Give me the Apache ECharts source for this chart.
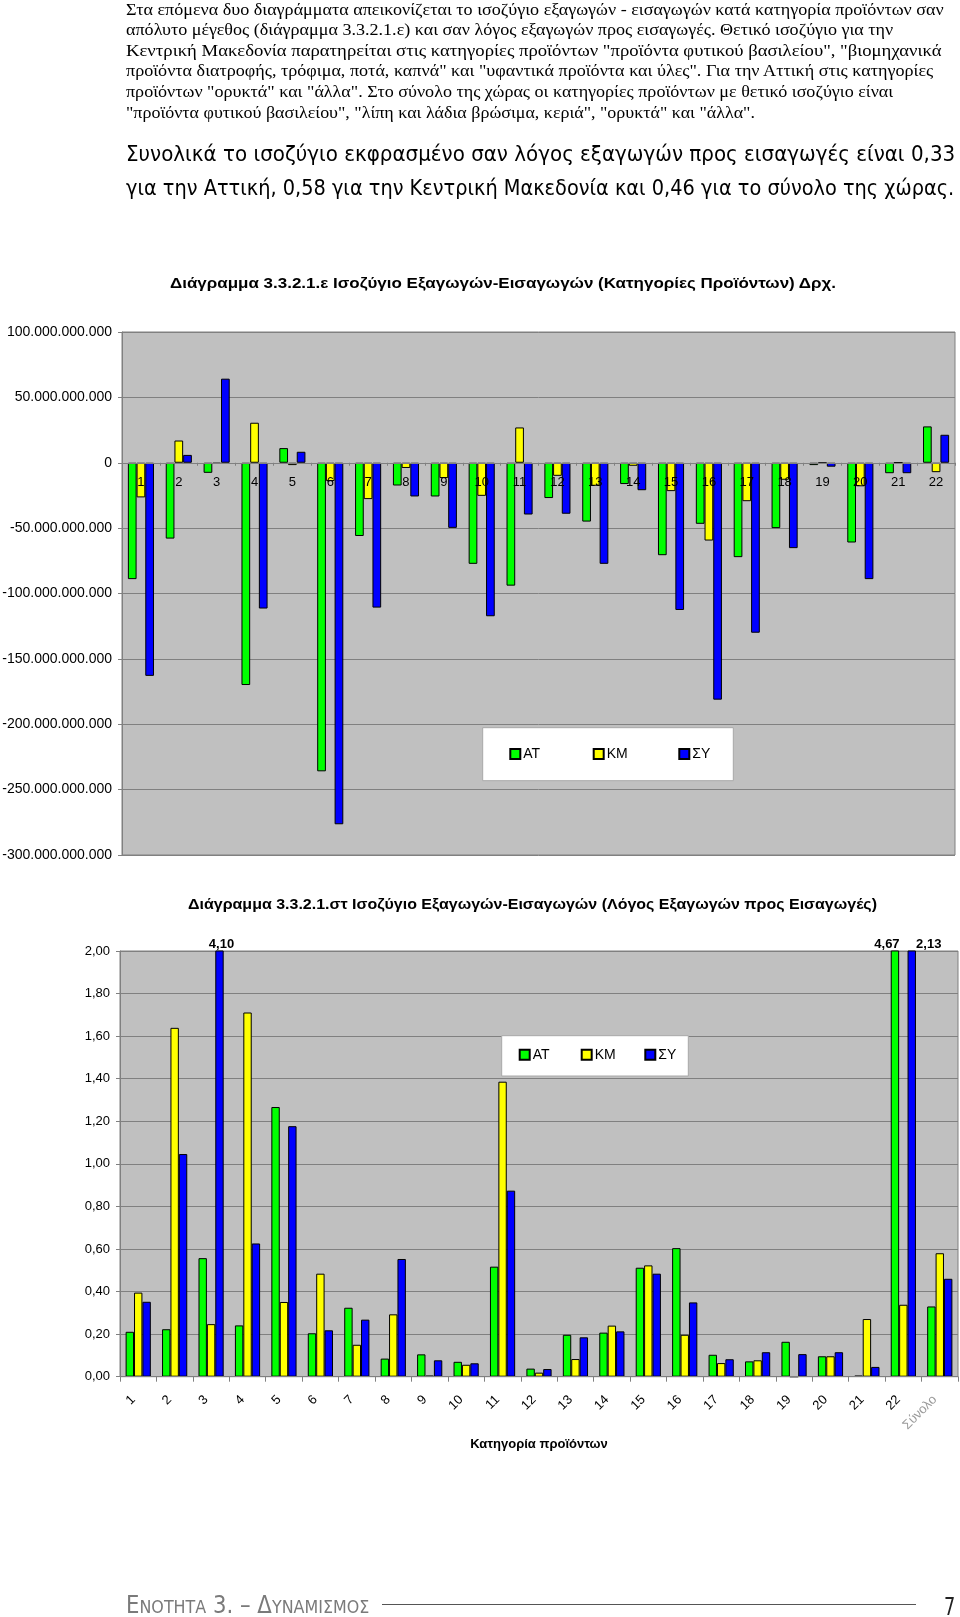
<!DOCTYPE html>
<html><head><meta charset="utf-8">
<script src="https://cdn.jsdelivr.net/npm/echarts@6/dist/echarts.min.js"></script>
<style>
html,body{margin:0;padding:0;background:#fff;width:960px;height:1617px;overflow:hidden;}
#chart{position:absolute;left:0;top:0;width:960px;height:1617px;}
.t{position:absolute;white-space:nowrap;transform-origin:0 50%;}
</style></head><body>
<div id="chart"></div>
<div id="texts"></div>
<script>
// ---------- DATA ----------
const seriesNames = ['AT', 'KM', 'ΣΥ'];
// Chart 1: balance in billions of drachmas
const cats1 = ['1','2','3','4','5','6','7','8','9','10','11','12','13','14','15','16','17','18','19','20','21','22'];
const at1 = [-89, -58, -7.7, -170, 11.2, -236, -56, -17.4, -25.8, -77.3, -94, -27, -45, -16.3, -70.7, -46.7, -72.2, -50, -1.8, -61, -8, 27.8];
const km1 = [-26.5, 17, -0.8, 30.6, -1.8, -14, -27.8, -4, -11.7, -25.3, 27, -10, -17.6, -2.3, -21.7, -59.5, -29.4, -13, -0.3, -18, 0, -7.2];
const sy1 = [-163, 6, 64.3, -111.5, 8.4, -276.5, -110.8, -25.8, -49.8, -117.4, -39.6, -39, -77.3, -21, -112.6, -181.2, -130, -65.3, -3, -89, -8, 21.4];
const unit1 = 1e9;
const y1Min = -300, y1Max = 100, y1Step = 50;
// Chart 2: exports / imports ratio
const cats2 = ['1','2','3','4','5','6','7','8','9','10','11','12','13','14','15','16','17','18','19','20','21','22','Σύνολο'];
const at2 = [0.211, 0.223, 0.557, 0.241, 1.267, 0.204, 0.324, 0.085, 0.105, 0.070, 0.517, 0.038, 0.197, 0.207, 0.512, 0.604, 0.103, 0.072, 0.164, 0.096, 0.005, 4.67, 0.33];
const km2 = [0.395, 1.639, 0.247, 1.711, 0.351, 0.484, 0.150, 0.293, 0.005, 0.056, 1.386, 0.019, 0.083, 0.240, 0.523, 0.197, 0.064, 0.077, 0, 0.096, 0.271, 0.338, 0.58];
const sy2 = [0.352, 1.046, 4.10, 0.626, 1.177, 0.218, 0.268, 0.553, 0.077, 0.063, 0.874, 0.036, 0.185, 0.213, 0.484, 0.349, 0.082, 0.115, 0.106, 0.115, 0.046, 2.13, 0.46];
const y2Min = 0, y2Max = 2, y2Step = 0.2;

// ---------- TEXTS ----------
const para1 = [
  'Στα επόμενα δυο διαγράμματα απεικονίζεται το ισοζύγιο εξαγωγών - εισαγωγών κατά κατηγορία προϊόντων σαν',
  'απόλυτο μέγεθος (διάγραμμα 3.3.2.1.ε) και σαν λόγος εξαγωγών προς εισαγωγές. Θετικό ισοζύγιο για την',
  'Κεντρική Μακεδονία παρατηρείται στις κατηγορίες προϊόντων "προϊόντα φυτικού βασιλείου", "βιομηχανικά',
  'προϊόντα διατροφής, τρόφιμα, ποτά, καπνά" και "υφαντικά προϊόντα και ύλες". Για την Αττική στις κατηγορίες',
  'προϊόντων "ορυκτά" και "άλλα". Στο σύνολο της χώρας οι κατηγορίες προϊόντων με θετικό ισοζύγιο είναι',
  '"προϊόντα φυτικού βασιλείου", "λίπη και λάδια βρώσιμα, κεριά", "ορυκτά" και "άλλα".'
];
const para2 = [
  'Συνολικά το ισοζύγιο εκφρασμένο σαν λόγος εξαγωγών προς εισαγωγές είναι 0,33',
  'για την Αττική, 0,58 για την Κεντρική Μακεδονία και 0,46 για το σύνολο της χώρας.'
];
const title1 = 'Διάγραμμα 3.3.2.1.ε Ισοζύγιο Εξαγωγών-Εισαγωγών (Κατηγορίες Προϊόντων) Δρχ.';
const title2 = 'Διάγραμμα 3.3.2.1.στ Ισοζύγιο Εξαγωγών-Εισαγωγών (Λόγος Εξαγωγών προς Εισαγωγές)';
const xName2 = 'Κατηγορία προϊόντων';

// ---------- HTML text placement ----------
const texts = document.getElementById('texts');
function place(html, left, cy, w, family, size, weight, color) {
  const d = document.createElement('div');
  d.className = 't';
  d.innerHTML = html;
  d.style.left = left + 'px';
  d.style.fontFamily = family;
  d.style.fontSize = size + 'px';
  d.style.fontWeight = weight;
  d.style.color = color;
  d.style.lineHeight = Math.round(size * 1.3) + 'px';
  d.style.top = (cy - size * 0.65) + 'px';
  texts.appendChild(d);
  const real = d.getBoundingClientRect().width;
  if (w && real > 0) d.style.transform = 'scaleX(' + (w / real) + ')';
  return d;
}
function esc(s){return s.replace(/&/g,'&amp;').replace(/</g,'&lt;');}
const p1Right = [943.5, 893, 941.4, 933, 893, 754.7];
para1.forEach((s, i) => place(esc(s), 125.8, 9 + i * 20.6, p1Right[i] - 125.8, '"Liberation Serif", serif', 16, 'normal', '#000'));
const p2Right = [955, 954];
para2.forEach((s, i) => place(esc(s), 125.8, 153 + i * 34, p2Right[i] - 125.8, '"DejaVu Sans", sans-serif', 22, 'normal', '#000'));
place(esc(title1), 170.1, 282.5, 666, '"Liberation Sans", Arial, sans-serif', 15, 'bold', '#000');
place(esc(title2), 187.5, 904, 689, '"Liberation Sans", Arial, sans-serif', 15, 'bold', '#000');
// footer
place('<span style="font-size:24px">Ε</span><span style="font-size:18px">ΝΟΤΗΤΑ</span> 3. – <span style="font-size:24px">Δ</span><span style="font-size:18px">ΥΝΑΜΙΣΜΟΣ</span>',
  125.8, 1606, 243.3, '"DejaVu Sans", sans-serif', 24, 'normal', '#7a7a7a');
place('7', 943.5, 1606, 11.3, '"DejaVu Sans", sans-serif', 25, 'normal', '#222');
const ln = document.createElement('div');
ln.style.cssText = 'position:absolute;left:381.5px;top:1604px;width:534px;height:0;border-top:1px solid #555;';
texts.appendChild(ln);

// ---------- CHART ----------
const colors = ['#00FF00', '#FFFF00', '#0000FF'];
const FONT = '"Liberation Sans", Arial, sans-serif';
function dots(v) {
  if (v === 0) return '0';
  const s = Math.abs(Math.round(v)).toString().replace(/\B(?=(\d{3})+(?!\d))/g, '.');
  return (v < 0 ? '-' : '') + s;
}
const comma2 = v => v.toFixed(2).replace('.', ',');
// offsets for the labels of clipped bars (series index : category index)
const clipLabelOffset = { '0:21': [-8, 0], '2:2': [2, 0], '2:21': [17, 0] };

function bars2(vals, si) {
  return vals.map((v, i) => {
    if (v <= y2Max) return v;
    return {
      value: v,
      label: {
        show: true, position: 'top', distance: 0,
        formatter: comma2(v), offset: clipLabelOffset[si + ':' + i] || [0, 0],
        fontFamily: FONT, fontSize: 13, fontWeight: 'bold', color: '#000'
      }
    };
  });
}

const grid1 = { left: 122, top: 332, width: 833, height: 523 };
const grid2 = { left: 120, top: 951, width: 838, height: 425.7 };
// category axis of chart 1 sits on the value 0 line
const zeroOffset1 = -grid1.height * (0 - y1Min) / (y1Max - y1Min);

const axisGray = '#808080';
const option = {
  animation: false,
  textStyle: { fontFamily: FONT },
  grid: [
    Object.assign({ show: true, backgroundColor: '#C0C0C0', borderColor: axisGray, borderWidth: 1, outerBoundsMode: 'none', containLabel: false }, grid1),
    Object.assign({ show: true, backgroundColor: '#C0C0C0', borderColor: axisGray, borderWidth: 1, outerBoundsMode: 'none', containLabel: false }, grid2)
  ],
  xAxis: [
    {
      gridIndex: 0, type: 'category', data: cats1, z: 10, position: 'bottom', offset: zeroOffset1,
      axisLine: { onZero: false, lineStyle: { color: axisGray, width: 1 } },
      axisTick: { show: true, length: 3, lineStyle: { color: axisGray } },
      axisLabel: { interval: 0, fontSize: 13, margin: 13, color: '#000', fontFamily: FONT },
      splitLine: { show: false }
    },
    {
      gridIndex: 1, type: 'category', z: 10,
      data: cats2.map((c, i) => i === cats2.length - 1 ? { value: c, textStyle: { color: '#9a9a9a' } } : c),
      axisLine: { lineStyle: { color: axisGray, width: 1 } },
      axisTick: { show: true, length: 5, lineStyle: { color: axisGray } },
      axisLabel: { interval: 0, rotate: 45, fontSize: 13, margin: 16, padding: [0, 7, 0, 0], color: '#000', fontFamily: FONT },
      name: xName2, nameLocation: 'middle', nameGap: 61,
      nameTextStyle: { fontFamily: FONT, fontSize: 13, fontWeight: 'bold', color: '#000' },
      splitLine: { show: false }
    }
  ],
  yAxis: [
    {
      gridIndex: 0, type: 'value', min: y1Min * unit1, max: y1Max * unit1, interval: y1Step * unit1,
      axisLine: { show: true, lineStyle: { color: axisGray } },
      axisTick: { show: true, length: 4, lineStyle: { color: axisGray } },
      axisLabel: { formatter: dots, fontSize: 14, margin: 10, color: '#000', fontFamily: FONT },
      splitLine: { show: true, lineStyle: { color: axisGray, width: 1 } }
    },
    {
      gridIndex: 1, type: 'value', min: y2Min, max: y2Max, interval: y2Step,
      axisLine: { show: true, lineStyle: { color: axisGray } },
      axisTick: { show: true, length: 4, lineStyle: { color: axisGray } },
      axisLabel: { formatter: comma2, fontSize: 13, margin: 10, color: '#000', fontFamily: FONT },
      splitLine: { show: true, lineStyle: { color: axisGray, width: 1 } }
    }
  ],
  legend: [],
  graphic: [
    { type: 'rect', z: 3, shape: { x: 482.7, y: 727.7, width: 250.6, height: 53 }, style: { fill: '#fff', stroke: '#a8a8a8', lineWidth: 1 } },
    { type: 'rect', z: 3, shape: { x: 501.7, y: 1035.7, width: 186.6, height: 40.3 }, style: { fill: '#fff', stroke: '#a8a8a8', lineWidth: 1 } }
  ],
  series: []
};

const vals1 = [at1, km1, sy1];
const vals2 = [at2, km2, sy2];
seriesNames.forEach((n, si) => {
  option.series.push({
    name: n, type: 'bar', xAxisIndex: 0, yAxisIndex: 0,
    data: vals1[si].map(v => v * unit1),
    barWidth: 8.7, barGap: '0%',
    itemStyle: { color: colors[si], borderColor: '#000', borderWidth: 1 }
  });
});
seriesNames.forEach((n, si) => {
  option.series.push({
    name: n, type: 'bar', xAxisIndex: 1, yAxisIndex: 1,
    data: bars2(vals2[si], si), clip: true,
    barWidth: 8.4, barGap: '0%',
    itemStyle: { color: colors[si], borderColor: '#000', borderWidth: 1 }
  });
});

// legends: one item each, placed inside the white boxes
const leg1X = [509.3, 592.7, 678.3], leg1Y = 755;
const leg2X = [518.7, 580.7, 644.3], leg2Y = 1055.7;
function addLegends(xs, cy) {
  seriesNames.forEach((n, i) => {
    option.legend.push({
      data: [n], left: xs[i], top: cy - 8, padding: 0, z: 5,
      icon: 'rect', itemWidth: 10, itemHeight: 10, itemGap: 4,
      textStyle: { fontFamily: FONT, fontSize: 14, color: '#000', padding: [0, 0, 0, -2] }
    });
  });
}
addLegends(leg1X, leg1Y);
addLegends(leg2X, leg2Y);

const chart = echarts.init(document.getElementById('chart'), null, { renderer: 'canvas' });
chart.setOption(option);
</script>
</body></html>
